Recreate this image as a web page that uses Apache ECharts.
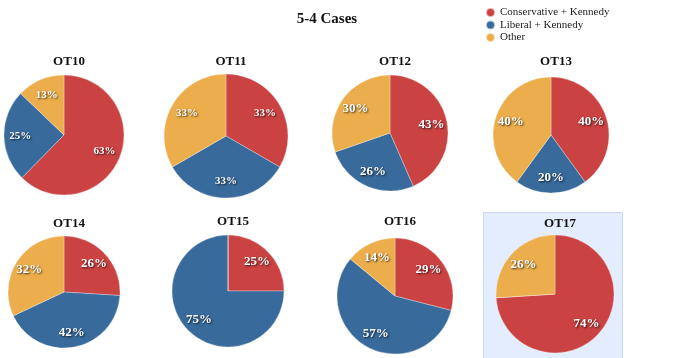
<!DOCTYPE html>
<html><head><meta charset="utf-8">
<script src="https://cdn.jsdelivr.net/npm/echarts@6/dist/echarts.min.js"></script>
<style>html,body{margin:0;padding:0;background:#fff}#c{width:676px;height:358px}</style>
</head><body><div id="c"></div>
<script>
const terms = ['OT10','OT11','OT12','OT13','OT14','OT15','OT16','OT17'];
const seriesNames = ['Conservative + Kennedy','Liberal + Kennedy','Other'];
const conservative = [63,33,43,40,26,25,29,74];
const liberal      = [25,33,26,20,42,75,57,0];
const other        = [13,33,30,40,32,0,14,26];

// layout (style only)
const centers = [[64,135],[226,136],[390,133],[551,135],[64,292],[228,291],[395,296],[555,294]];
const radii   = [60,62,58,58,56,56,58,59];
const titleY  = [58,58,58,58,220,218,218,220];
const labelSize = [11,11,13,13,13,13,13,13];
const colors = ['#cb4242','#386a9b','#ecae4c'];
const serif = '"Liberation Serif","DejaVu Serif",serif';

const chart = echarts.init(document.getElementById('c'));
const series = [];
const titles = [{text:'5-4 Cases', left:322, top:7, textAlign:'center',
  textStyle:{fontFamily:serif,fontSize:15,fontWeight:'bold',color:'#111'}}];

terms.forEach((t,i)=>{
  const data = seriesNames.map((n,k)=>({name:n, value:[conservative,liberal,other][k][i]}));
  const r = radii[i];
  series.push({
    type:'pie', center:centers[i], radius:[0,r], startAngle:90, clockwise:true,
    data, label:{show:false}, labelLine:{show:false}, silent:true,
    itemStyle:{borderColor:'rgba(255,255,255,0.6)',borderWidth:0.5}
  });
  series.push({
    type:'pie', center:centers[i], radius:[0.36*r, r], startAngle:90, clockwise:true,
    data, silent:true, legendHoverLink:false,
    itemStyle:{color:'rgba(0,0,0,0)'},
    label:{show:true, position:'inside',
      formatter:p=> p.value>0 ? p.value+'%' : '',
      fontFamily:serif, fontWeight:'bold', fontSize:labelSize[i], color:'#fff',
      textShadowColor:'rgba(0,0,0,0.75)', textShadowBlur:2, textShadowOffsetX:1, textShadowOffsetY:1},
    labelLine:{show:false}
  });
  titles.push({text:t, left:centers[i][0], top:titleY[i]-8, textAlign:'center',
    textStyle:{fontFamily:serif,fontSize:13,fontWeight:'bold',color:'#111'}});
});

chart.setOption({
  animation:false,
  color:colors,
  title:titles,
  graphic:[{type:'rect', z:-10, shape:{x:483.5,y:212.5,width:139,height:150},
    style:{fill:'#e4edfd',stroke:'#c8d8f6',lineWidth:1}}],
  legend:{orient:'vertical', left:480, top:2, padding:[5,5,5,5], itemWidth:9, itemHeight:9, itemGap:1.5,
    icon:'circle', data:seriesNames, selectedMode:false,
    textStyle:{fontFamily:serif,fontSize:11,color:'#222',padding:[0,0,0,0]}},
  series
});
</script></body></html>
